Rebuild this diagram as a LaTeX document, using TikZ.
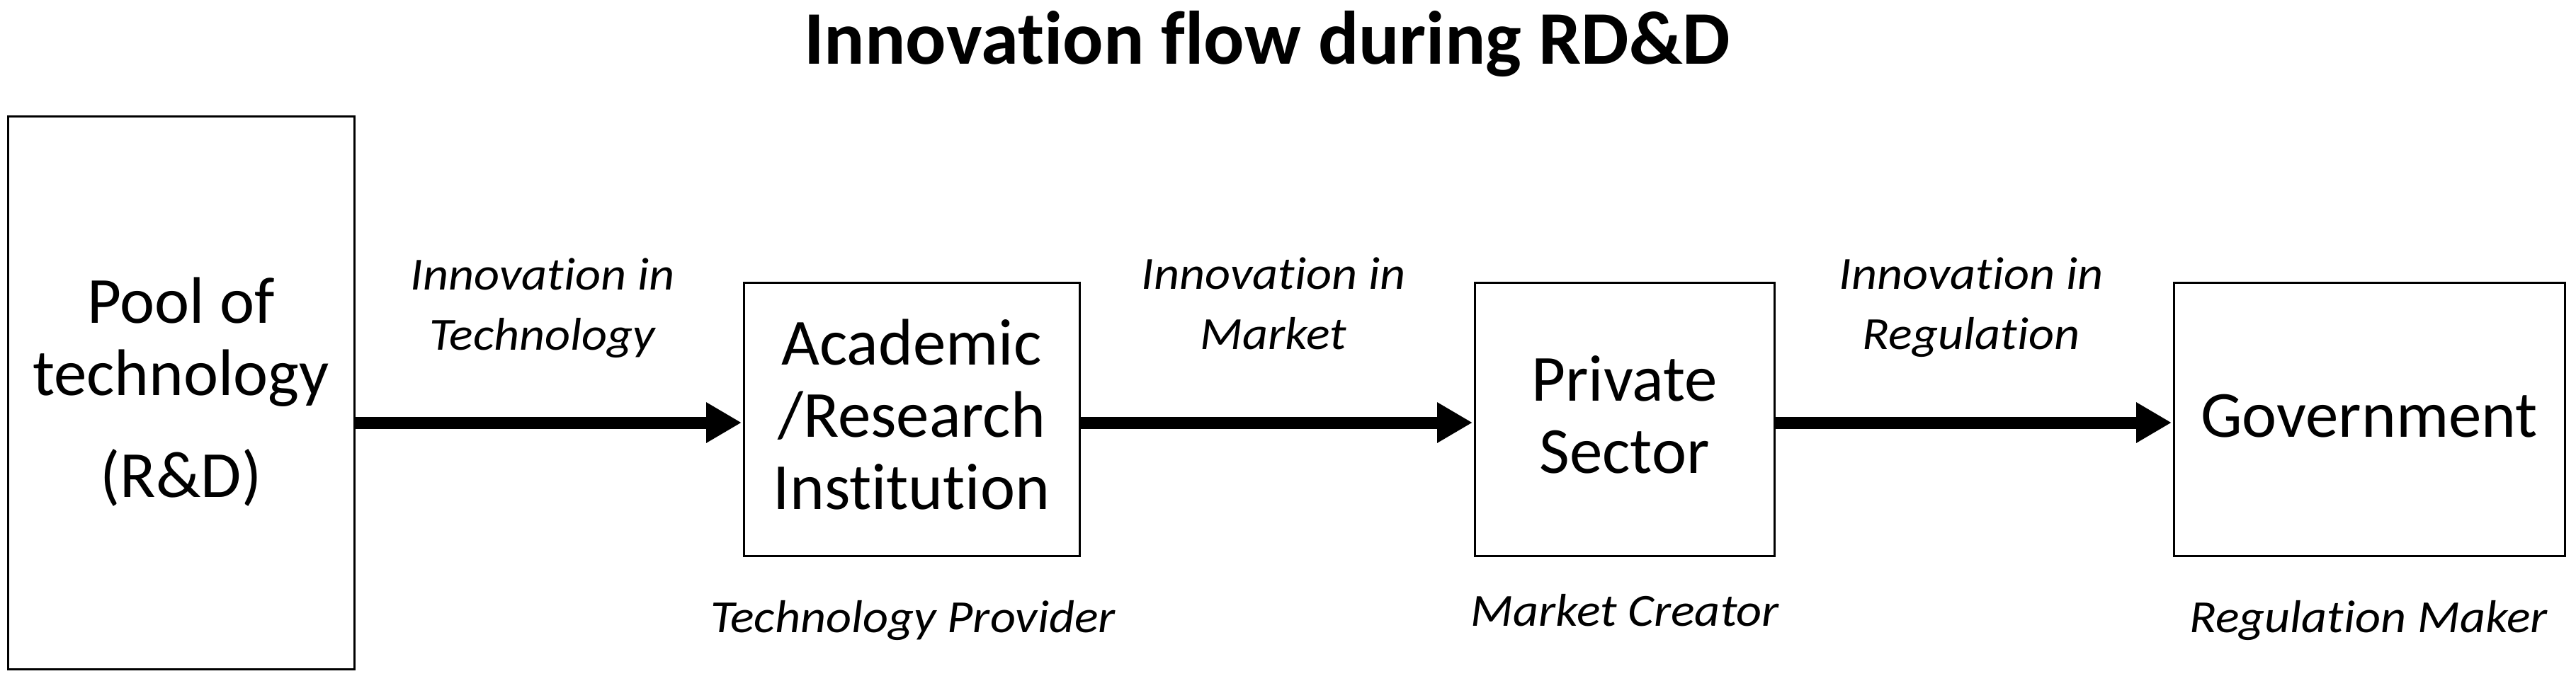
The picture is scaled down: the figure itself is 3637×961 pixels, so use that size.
\documentclass[tikz,border=0pt]{standalone}
\usepackage{fontspec}
\setmainfont{Carlito}[Ligatures=NoCommon]
\newfontfamily\lblfont{Carlito}[Ligatures=NoCommon,FakeStretch=1.08]
\usetikzlibrary{arrows.meta}
\begin{document}
\begin{tikzpicture}[x=1pt,y=-1pt,
  box/.style={draw=black,line width=3pt,inner sep=0pt,outer sep=0pt},
  boxtext/.style={anchor=base,inner sep=0pt,font=\fontsize{93}{102}\selectfont},
  lbl/.style={anchor=base,inner sep=0pt,font=\lblfont\fontsize{65}{85}\selectfont\itshape},
  flow/.style={line width=17pt,-{Triangle[length=50pt,width=54pt]},shorten >=3pt}]
\useasboundingbox[fill=white] (0,0) rectangle (3637,961);

\node[anchor=base,inner sep=0pt,font=\fontsize{107}{120}\selectfont\bfseries] (title) at (1789,90.7) {Innovation flow during RD\&D};

\node[box,minimum width=489pt,minimum height=781pt] (b1) at (255.5,554.5) {};
\node[box,minimum width=474pt,minimum height=386pt] (b2) at (1287,592) {};
\node[box,minimum width=423pt,minimum height=386pt] (b3) at (2293.5,592) {};
\node[box,minimum width=552pt,minimum height=386pt] (b4) at (3345,592) {};

\node[boxtext] (t1) at (255.5,456) {\begin{tabular}[t]{@{}c@{}}Pool of\\technology\\[42pt](R\&D)\end{tabular}};
\node[boxtext] (t2) at (1287,515.6) {\begin{tabular}[t]{@{}c@{}}Academic\\/Research\\Institution\end{tabular}};
\node[boxtext] (t3) at (2293.5,566) {\begin{tabular}[t]{@{}c@{}}Private\\Sector\end{tabular}};
\node[boxtext] (t4) at (3345,617) {Government};

\coordinate (a1) at ([yshift=-5pt]b2.west);
\draw[flow] (b1.east |- a1) -- (a1);
\draw[flow] ([yshift=-5pt]b2.east) -- ([yshift=-5pt]b3.west);
\draw[flow] ([yshift=-5pt]b3.east) -- ([yshift=-5pt]b4.west);

\node[lbl] (l1) at (766,409) {\begin{tabular}[t]{@{}c@{}}Innovation in\\Technology\end{tabular}};
\node[lbl] (l2) at (1798,408.5) {\begin{tabular}[t]{@{}c@{}}Innovation in\\Market\end{tabular}};
\node[lbl] (l3) at (2783,408.5) {\begin{tabular}[t]{@{}c@{}}Innovation in\\Regulation\end{tabular}};

\node[lbl] (r2) at (1289,893.6) {Technology Provider};
\node[lbl] (r3) at (2294,884) {Market Creator};
\node[lbl] (r4) at (3344,893.6) {Regulation Maker};
\end{tikzpicture}
\end{document}
